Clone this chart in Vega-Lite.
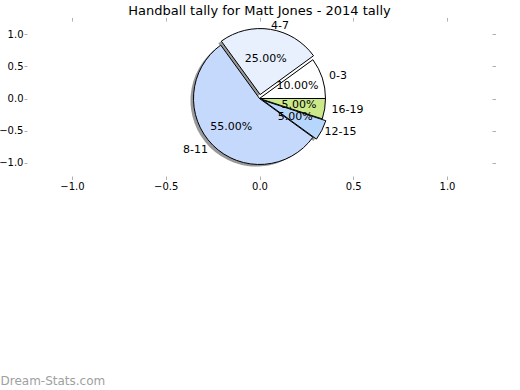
{
  "$schema": "https://vega.github.io/schema/vega-lite/v6.json",
  "width": 465,
  "height": 155,
  "autosize": {"type": "none"},
  "padding": {"left": 27, "top": 21, "right": 28, "bottom": 214},
  "background": "white",
  "title": {"text": "Handball tally for Matt Jones - 2014 tally", "font": "DejaVu Sans", "fontSize": 13, "fontWeight": "normal", "color": "black", "anchor": "middle", "offset": -1},
  "config": {"view": {"stroke": null}, "font": "DejaVu Sans"},
  "data": {"values": [
    {"group": "0-3", "share": 0.10, "order": 1},
    {"group": "4-7", "share": 0.25, "order": 2},
    {"group": "8-11", "share": 0.55, "order": 3},
    {"group": "12-15", "share": 0.05, "order": 4},
    {"group": "16-19", "share": 0.05, "order": 5}
  ]},
  "layer": [
    {
      "mark": {"type": "point", "opacity": 0},
      "encoding": {
        "x": {"datum": 0, "type": "quantitative", "scale": {"domain": [-1.24, 1.24], "nice": false, "zero": false},
          "axis": {"orient": "bottom", "values": [-1, -0.5, 0, 0.5, 1], "format": ".1f", "domain": false, "grid": false, "tickColor": "#b0b0b0", "tickSize": 3.5, "labelFont": "DejaVu Sans", "labelFontSize": 10, "labelColor": "black", "labelPadding": 2,
            "title": "Dream-Stats.com", "titleX": -27, "titleY": 204, "titleAnchor": "start", "titleAlign": "left", "titleBaseline": "middle", "titleFont": "DejaVu Sans", "titleFontSize": 12, "titleFontWeight": "normal", "titleColor": "#a0a0a0"}},
        "y": {"datum": 0, "type": "quantitative", "scale": {"domain": [-1.21, 1.21], "nice": false, "zero": false},
          "axis": {"orient": "left", "values": [-1, -0.5, 0, 0.5, 1], "format": ".1f", "domain": false, "grid": false, "tickColor": "#b0b0b0", "tickSize": 3, "labelFont": "DejaVu Sans", "labelFontSize": 10, "labelColor": "black", "labelPadding": 1, "title": null}}
      }
    },
    {
      "mark": {"type": "point", "opacity": 0},
      "encoding": {
        "x": {"datum": 0, "type": "quantitative",
          "axis": {"orient": "top", "values": [-1, -0.5, 0, 0.5, 1], "labels": false, "domain": false, "grid": false, "tickColor": "#b0b0b0", "tickSize": 3.5, "title": null}},
        "y": {"datum": 0, "type": "quantitative",
          "axis": {"orient": "right", "values": [-1, -0.5, 0, 0.5, 1], "labels": false, "domain": false, "grid": false, "tickColor": "#b0b0b0", "tickSize": 3.5, "title": null}}
      }
    },
    {
      "mark": {"type": "arc", "outerRadius": 66, "fill": "#333333", "opacity": 0.5,
        "xOffset": {"expr": "-3 + ((datum.group === '4-7' || datum.group === '12-15') ? 4 * cos(PI * (datum.share_start + datum.share_end)) : 0)"},
        "yOffset": {"expr": "2 - ((datum.group === '4-7' || datum.group === '12-15') ? 4 * sin(PI * (datum.share_start + datum.share_end)) : 0)"}},
      "encoding": {
        "theta": {"field": "share", "type": "quantitative", "stack": true, "scale": {"domain": [0, 1], "range": [1.5708, -4.7124]}},
        "order": {"field": "order", "type": "quantitative"}
      }
    },
    {
      "mark": {"type": "arc", "outerRadius": 66, "stroke": "black", "strokeWidth": 1,
        "xOffset": {"expr": "(datum.group === '4-7' || datum.group === '12-15') ? 4 * cos(PI * (datum.share_start + datum.share_end)) : 0"},
        "yOffset": {"expr": "(datum.group === '4-7' || datum.group === '12-15') ? -4 * sin(PI * (datum.share_start + datum.share_end)) : 0"}},
      "encoding": {
        "theta": {"field": "share", "type": "quantitative", "stack": true},
        "order": {"field": "order", "type": "quantitative"},
        "color": {"field": "group", "type": "nominal", "legend": null,
          "scale": {"domain": ["0-3", "4-7", "8-11", "12-15", "16-19"], "range": ["#ffffff", "#e8f0fe", "#c5d9fd", "#b6d6fc", "#cbe88a"]}}
      }
    },
    {
      "mark": {"type": "text", "radius": 73, "font": "DejaVu Sans", "fontSize": 11, "color": "black", "baseline": "middle",
        "align": {"expr": "cos(PI * (datum.share_start + datum.share_end)) >= 0 ? 'left' : 'right'"}},
      "encoding": {
        "theta": {"field": "share", "type": "quantitative", "stack": true},
        "order": {"field": "order", "type": "quantitative"},
        "text": {"field": "group", "type": "nominal"}
      }
    },
    {
      "mark": {"type": "text", "radius": 40, "font": "DejaVu Sans", "fontSize": 11, "color": "black", "align": "center", "baseline": "middle"},
      "encoding": {
        "theta": {"field": "share", "type": "quantitative", "stack": true},
        "order": {"field": "order", "type": "quantitative"},
        "text": {"field": "share", "type": "quantitative", "format": ".2%"}
      }
    }
  ],
  "resolve": {"axis": {"x": "independent", "y": "independent"}}
}
